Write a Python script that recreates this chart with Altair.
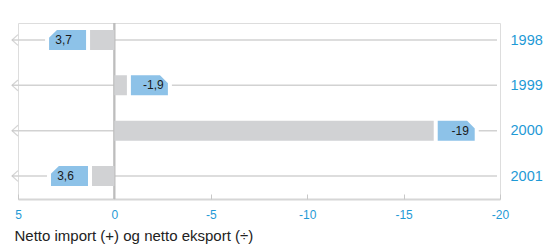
import altair as alt
import pandas as pd

years = ["1998", "1999", "2000", "2001"]
values = [3.7, -1.9, -19.0, 3.6]
x_ticks = [5, 0, -5, -10, -15, -20]

W, H = 482, 176
PX = W / 25.0  # pixels per unit

df = pd.DataFrame({"year": years, "value": values})

BLUE_TXT = "#1f9ad6"
TAG = "#8dc2e8"
GREY = "#d1d2d4"
LINE = "#d2d2d2"
FONT = "Liberation Sans"

xscale = alt.Scale(domain=[5, -20], nice=False, zero=False)
yscale = alt.Scale(type="point", domain=years, range=[17, 153], padding=0)

yaxis = alt.Axis(
    orient="right", ticks=False, domain=False, grid=False,
    labelColor=BLUE_TXT, labelFont=FONT, labelFontSize=14.5,
    labelPadding=10, title=None,
)
Y = alt.Y("year:N", scale=yscale, axis=yaxis)

base = alt.Chart(df).transform_calculate(
    sgn="datum.value > 0 ? 1 : -1",
).transform_calculate(
    dpx=f"min(24.5, abs(datum.value) * {PX} - 35)",
).transform_calculate(
    tagx=f"datum.value - datum.sgn * datum.dpx / {PX}",
).transform_calculate(
    txtx=f"datum.tagx + datum.sgn * 4 / {PX}",
    lbl="replace(toString(datum.value), '.', ',')",
)

rows = base.mark_rule(color=LINE, strokeWidth=1.5, xOffset=-6, x2Offset=-3).encode(
    x=alt.XDatum(5, scale=xscale, axis=None),
    x2=alt.X2Datum(-20),
    y=Y,
)

arrows = base.mark_point(
    shape="M1,-1.8L-1,0L1,1.8", size=36, filled=False, stroke="#c4c4c4",
    strokeWidth=1.2, xOffset=-3,
).encode(
    x=alt.XDatum(5, scale=xscale, axis=None),
    y=Y,
)

zero = alt.Chart(df).mark_rule(color="#bdbdbd", strokeWidth=1.5).encode(
    x=alt.XDatum(0, scale=xscale, axis=None),
)

bars = base.mark_bar(color=GREY, size=20).encode(
    x=alt.X(
        "tagx:Q", scale=xscale,
        axis=alt.Axis(
            orient="bottom", values=x_ticks, ticks=False, grid=False,
            domainColor="#d6d6d6", domainWidth=2,
            labelColor=BLUE_TXT, labelFont=FONT, labelFontSize=12,
            labelPadding=10, labelFlush=False,
            labelExpr="toString(datum.value)",
            title="Netto import (+) og netto eksport (÷)",
            titleFont=FONT, titleFontSize=15, titleFontWeight="normal",
            titleColor="#222222", titleAnchor="start", titleAlign="left",
            titleX=-4, titleY=41, titleBaseline="alphabetic",
        ),
    ),
    x2=alt.X2Datum(0),
    y=Y,
)

tags = base.mark_point(
    filled=True, opacity=1, size=41 * 41, stroke="white", strokeWidth=4,
    fill=TAG,
).encode(
    x=alt.X(
        "tagx:Q", scale=xscale,
        axis=alt.Axis(
            orient="top", offset=-H, values=x_ticks, labels=False,
            domain=False, grid=False, ticks=True, tickSize=5,
            tickColor="#c8c8c8", tickWidth=1, title=None,
        ),
    ),
    y=Y,
    shape=alt.condition(
        "datum.value > 0",
        alt.value("M-1,-0.15L-0.56,-0.585L1,-0.585L1,0.585L-1,0.585Z"),
        alt.value("M1,-0.15L0.56,-0.585L-1,-0.585L-1,0.585L1,0.585Z"),
    ),
)

labels = base.mark_text(font=FONT, fontSize=12, color="#1a1a1a", baseline="middle").encode(
    x=alt.X("txtx:Q", scale=xscale, axis=None),
    y=Y,
    text="lbl:N",
)

chart = alt.layer(rows, arrows, zero, bars, tags, labels).resolve_axis(
    x="independent"
).properties(
    width=W, height=H,
    autosize=alt.AutoSizeParams(type="none"),
    padding={"left": 10, "top": 15, "right": 43, "bottom": 45},
).configure_view(stroke=None).configure(background="white")

chart.save("out.html", embed_options={"renderer": "svg", "actions": False})
